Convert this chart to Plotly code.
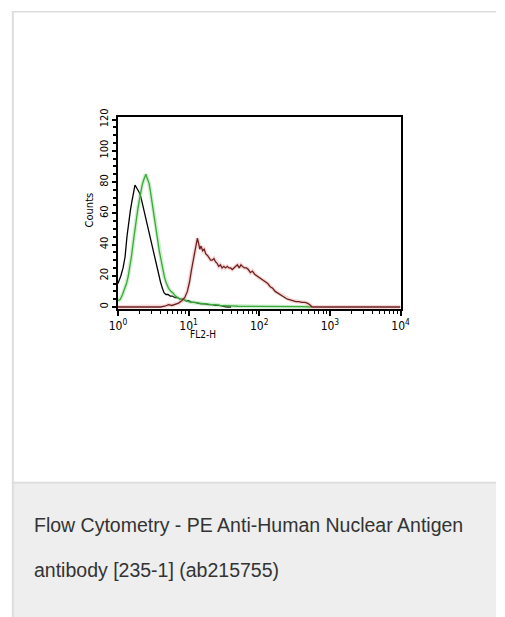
import plotly.graph_objects as go

W, H = 505, 617

# ---------------- data ----------------
black_x = [1, 1.05, 1.1, 1.18, 1.26, 1.34, 1.42, 1.5, 1.58, 1.66, 1.74, 1.8, 1.86, 1.94, 2.02,
           2.12, 2.22, 2.34, 2.46, 2.6, 2.74, 2.9, 3.06, 3.22, 3.4, 3.6, 3.8, 4.0, 4.25, 4.5,
           4.8, 5.1, 5.5, 5.9, 6.4, 7.0, 7.6, 8.3, 9.1, 10, 11, 12, 13.5, 15, 17, 19, 21.5,
           24, 27, 30, 35, 40]
black_y = [15, 17, 20, 25, 32, 45, 55, 62, 68, 74, 78, 77, 76, 75, 73,
           70, 66, 62, 57, 52, 49, 44, 39, 35, 30, 25, 20, 16, 12, 9,
           8, 8, 7, 7, 6, 6, 5, 5, 4, 4, 3, 3, 2.5, 2, 2, 1.5, 1.5,
           1, 1, 0.5, 0, 0]

green_x = [1, 1.08, 1.16, 1.24, 1.32, 1.4, 1.48, 1.56, 1.64, 1.72, 1.8, 1.9, 2.0, 2.1, 2.2,
           2.3, 2.4, 2.48, 2.56, 2.66, 2.76, 2.88, 3.0, 3.14, 3.3, 3.46, 3.64, 3.84, 4.06,
           4.3, 4.56, 4.86, 5.2, 5.6, 6.0, 6.5, 7.0, 7.6, 8.3, 9.1, 10, 11, 12.5, 14, 16,
           18, 21, 24, 28, 33, 40, 50, 70, 100, 150, 250, 400, 550]
green_y = [4, 5, 8, 11, 15, 20, 26, 33, 41, 49, 56, 62, 68, 74, 78,
           81, 84, 85, 83, 81, 79, 74, 69, 64, 57, 50, 43, 36, 30,
           24, 19, 15, 12, 10, 9, 7, 6, 5, 5, 4, 3.5, 3, 3, 2.5, 2,
           2, 1.5, 1.5, 1, 1, 0.7, 0.5, 0.5, 0.3, 0.3, 0.2, 0.2, 0]

red_x = [1, 2, 3, 4, 4.6, 5.2, 5.8, 6.5, 7.2, 8.0, 8.8, 9.6, 10.3, 11.0, 11.8, 12.6, 13.3,
         13.8, 14.4, 15.0, 15.8, 16.6, 17.5, 18.5, 19.5, 20.5, 21.6, 22.8, 24.0, 25.3, 26.7,
         28.2, 29.8, 31.5, 33.3, 35.2, 37.2, 39.3, 41.5, 43.8, 46.3, 49, 52, 55, 58, 62, 66,
         70, 75, 80, 86, 92, 98, 105, 113, 122, 132, 143, 155, 168, 182, 197, 213, 230, 250,
         275, 300, 330, 365, 400, 440, 480, 520, 560, 600, 1000, 10000]
red_y = [0, 0, 0, 0, 0.5, 1.5, 1, 2, 2.5, 4, 6, 10, 16, 24, 32, 40, 44,
         41, 37, 39, 36, 37, 34, 33, 31, 30, 30, 31, 29, 28, 26,
         27, 25, 26, 25, 26, 25, 25, 24, 25, 26, 27, 25, 27, 26, 25, 25,
         24, 22, 23, 21, 20, 19, 18, 17, 16, 15, 13, 12, 10, 9, 8, 7, 6, 5,
         4.5, 4, 3.5, 3.5, 3, 3, 2.5, 1.5, 0, 0, 0, 0]

x_tickvals = [1, 10, 100, 1000, 10000]
x_ticktext = ["10<sup>0</sup>", "10<sup>1</sup>", "10<sup>2</sup>", "10<sup>3</sup>", "10<sup>4</sup>"]
x_minor = [k * 10 ** d for d in range(4) for k in range(2, 10)]
y_tickvals = [0, 20, 40, 60, 80, 100, 120]

x_title = "FL2-H"
y_title = "Counts"
caption_lines = ["Flow Cytometry - PE Anti-Human Nuclear Antigen",
                 "antibody [235-1] (ab215755)"]

# ---------------- figure ----------------
fig = go.Figure()

fig.add_trace(go.Scatter(x=black_x, y=black_y, mode="lines",
                         line=dict(color="#000000", width=1.3), hoverinfo="skip"))
fig.add_trace(go.Scatter(x=green_x, y=green_y, mode="lines",
                         line=dict(color="rgba(120,210,120,0.35)", width=4), hoverinfo="skip"))
fig.add_trace(go.Scatter(x=green_x, y=green_y, mode="lines",
                         line=dict(color="#3aa83a", width=1.3), hoverinfo="skip"))
fig.add_trace(go.Scatter(x=red_x, y=red_y, mode="lines",
                         line=dict(color="rgba(230,150,150,0.35)", width=4), hoverinfo="skip"))
fig.add_trace(go.Scatter(x=red_x, y=red_y, mode="lines",
                         line=dict(color="#6e2020", width=1.3), hoverinfo="skip"))

def px(x):
    return x / W

def py(y):
    return 1 - y / H

narrow = "Liberation Sans Narrow, Arial Narrow, DejaVu Sans Condensed, sans-serif"

fig.update_layout(
    width=W, height=H,
    margin=dict(l=0, r=0, t=0, b=0),
    paper_bgcolor="white",
    plot_bgcolor="white",
    showlegend=False,
    xaxis=dict(
        type="log", range=[0, 4],
        domain=[px(113), px(406)],
        tickmode="array", tickvals=x_tickvals, ticktext=x_ticktext,
        ticks="outside", ticklen=5, tickwidth=1.5, tickcolor="black",
        minor=dict(tickmode="array", tickvals=x_minor, ticks="outside",
                   ticklen=3, tickwidth=1.2, tickcolor="black", showgrid=False),
        showgrid=False, zeroline=False,
        showline=True, linecolor="black", linewidth=1.5, mirror=True,
        tickfont=dict(family=narrow, size=12, color="black"),
    ),
    yaxis=dict(
        range=[-1.3, 121.9],
        domain=[py(305), py(110)],
        tickmode="array", tickvals=y_tickvals,
        tickangle=-90,
        ticks="outside", ticklen=4, tickwidth=2, tickcolor="black",
        minor=dict(dtick=5, ticks="outside", ticklen=3, tickwidth=1.5,
                   tickcolor="black", showgrid=False),
        showgrid=False, zeroline=False,
        showline=True, linecolor="black", linewidth=2, mirror=True,
        tickfont=dict(family=narrow, size=11, color="black"),
    ),
)

# card frame and caption panel
shapes = [
    dict(type="rect", xref="paper", yref="paper", x0=px(4), x1=px(505), y0=py(617), y1=py(482),
         fillcolor="#edeeed", line=dict(width=0), layer="below"),
    dict(type="line", xref="paper", yref="paper", x0=px(3), x1=px(505), y0=py(481), y1=py(481),
         line=dict(color="#dddddd", width=2), layer="below"),
    dict(type="line", xref="paper", yref="paper", x0=px(3), x1=px(505), y0=py(3.7), y1=py(3.7),
         line=dict(color="#dddddd", width=1.5), layer="below"),
    dict(type="line", xref="paper", yref="paper", x0=px(4), x1=px(4), y0=py(3), y1=py(617),
         line=dict(color="#dddddd", width=2), layer="below"),
]
fig.update_layout(shapes=shapes)

annotations = [
    dict(text=y_title, xref="paper", yref="paper", x=px(83), y=py(205), textangle=-90,
         showarrow=False, font=dict(family=narrow, size=11, color="black"),
         xanchor="center", yanchor="middle"),
    dict(text=x_title, xref="paper", yref="paper", x=px(201), y=py(331),
         showarrow=False, font=dict(family=narrow, size=10, color="black"),
         xanchor="center", yanchor="middle"),
    dict(text=caption_lines[0], xref="paper", yref="paper", x=px(24), y=py(524),
         showarrow=False, font=dict(family="Liberation Sans, Arial, sans-serif", size=19.5, color="#333333"),
         xanchor="left", yanchor="middle"),
    dict(text=caption_lines[1], xref="paper", yref="paper", x=px(24), y=py(569),
         showarrow=False, font=dict(family="Liberation Sans, Arial, sans-serif", size=19.5, color="#333333"),
         xanchor="left", yanchor="middle"),
]
fig.update_layout(annotations=annotations)

fig.write_html(
    "out.html",
    config={"displayModeBar": False},
    post_script="document.body.style.margin='0';document.body.style.overflow='hidden';",
)
